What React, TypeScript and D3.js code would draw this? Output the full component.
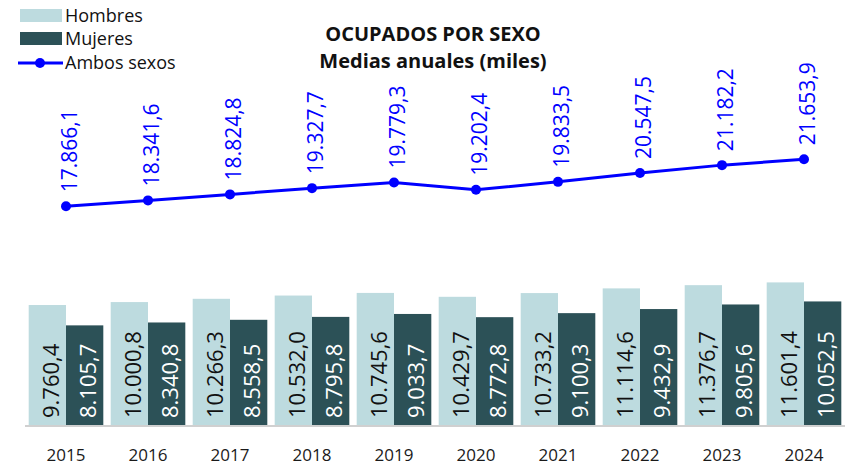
import React from 'react';
import * as d3 from 'd3';

const width = 850;
const height = 465;
const baseY = 425;
const blue = '#0000ff';
const light = '#bddbdf';
const dark = '#2c5157';
const font = "'Open Sans', sans-serif";

const years = ['2015', '2016', '2017', '2018', '2019', '2020', '2021', '2022', '2023', '2024'];
const hombres = [9760.4, 10000.8, 10266.3, 10532.0, 10745.6, 10429.7, 10733.2, 11114.6, 11376.7, 11601.4];
const mujeres = [8105.7, 8340.8, 8558.5, 8795.8, 9033.7, 8772.8, 9100.3, 9432.9, 9805.6, 10052.5];
const ambos = [17866.1, 18341.6, 18824.8, 19327.7, 19779.3, 19202.4, 19833.5, 20547.5, 21182.2, 21653.9];

const fmt = (v: number) => {
  const [i, d] = v.toFixed(1).split('.');
  return i.replace(/\B(?=(\d{3})+(?!\d))/g, '.') + ',' + d;
};

const App: React.FC = () => {
  const x = d3.scaleBand<string>()
    .domain(years)
    .range([25, 845])
    .paddingInner(0.09)
    .paddingOuter(0.045);

  const sub = d3.scaleBand<string>()
    .domain(['h', 'm'])
    .range([0, x.bandwidth()]);

  const yBar = d3.scaleLinear()
    .domain([0, 12000])
    .range([baseY, baseY - 147.5]);

  const yLine = d3.scaleLinear()
    .domain([0, 24000])
    .range([428, 428 - 0.01241 * 24000]);

  const cx = (y: string) => (x(y) as number) + x.bandwidth() / 2;

  const linePath = d3.line<number>()
    .x((_, i) => cx(years[i]))
    .y(d => yLine(d))(ambos) || '';

  const barLabel = (bx: number, label: string, color: string, key: string) => (
    <text key={key} transform={`translate(${bx + 4},${baseY - 7}) rotate(-90)`}
      dy="0.35em" fontSize={22} fill={color} fontFamily={font}>{label}</text>
  );

  return (
    <svg width={width} height={height} style={{position: 'absolute', left: 0, top: 0}}>
      <rect width={width} height={height} fill="#fff" />

      {/* legend */}
      <g fontFamily={font} fontSize={18} fill="#111">
        <rect x={20} y={9} width={42} height={13} fill={light} />
        <text x={65} y={22}>Hombres</text>
        <rect x={20} y={32} width={42} height={13} fill={dark} />
        <text x={65} y={45}>Mujeres</text>
        <line x1={18} x2={63} y1={63} y2={63} stroke={blue} strokeWidth={3} />
        <circle cx={40} cy={63} r={5} fill={blue} />
        <text x={65} y={69}>Ambos sexos</text>
      </g>

      {/* title */}
      <g fontFamily={font} fontWeight="bold" fontSize={20} fill="#111" textAnchor="middle">
        <text x={433} y={41}>OCUPADOS POR SEXO</text>
        <text x={433} y={68}>Medias anuales (miles)</text>
      </g>

      {/* bars */}
      {years.map((yr, i) => {
        const x0 = x(yr) as number;
        const hx = x0 + (sub('h') as number);
        const mx = x0 + (sub('m') as number);
        return (
          <g key={yr}>
            <rect x={hx} y={yBar(hombres[i])} width={sub.bandwidth()} height={baseY - yBar(hombres[i])} fill={light} />
            <rect x={mx} y={yBar(mujeres[i])} width={sub.bandwidth()} height={baseY - yBar(mujeres[i])} fill={dark} />
            {barLabel(hx + sub.bandwidth() / 2, fmt(hombres[i]), '#111', 'h' + yr)}
            {barLabel(mx + sub.bandwidth() / 2, fmt(mujeres[i]), '#fff', 'm' + yr)}
          </g>
        );
      })}

      {/* axis */}
      <line x1={25} x2={845} y1={baseY + 1} y2={baseY + 1} stroke="#d0d0d0" strokeWidth={2} />
      {years.map(yr => (
        <text key={'x' + yr} x={cx(yr)} y={461} textAnchor="middle" fontSize={17}
          fontFamily={font} fill="#1a1a1a">{yr}</text>
      ))}

      {/* line */}
      <path d={linePath} fill="none" stroke={blue} strokeWidth={3} />
      {ambos.map((v, i) => (
        <g key={'p' + i}>
          <circle cx={cx(years[i])} cy={yLine(v)} r={5} fill={blue} />
          <text transform={`translate(${cx(years[i]) + 4},${yLine(v) - 14}) rotate(-90)`}
            dy="0.35em" fontSize={21} fill={blue} fontFamily={font}>{fmt(v)}</text>
        </g>
      ))}
    </svg>
  );
};

export default App;
